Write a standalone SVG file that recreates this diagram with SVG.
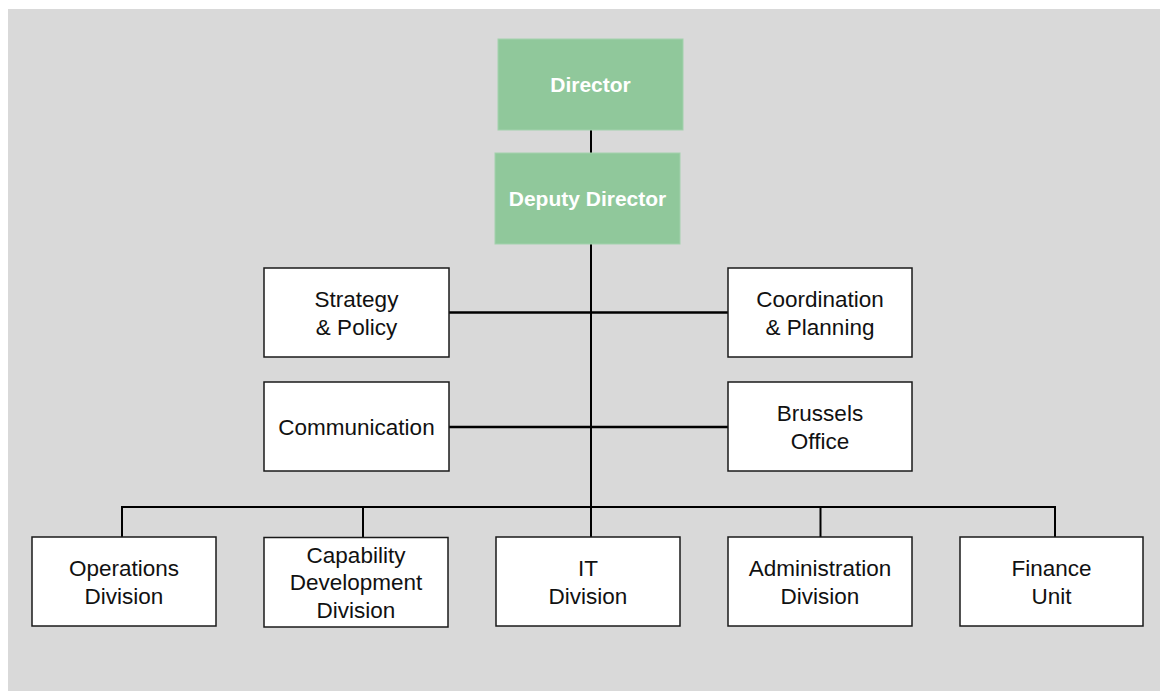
<svg xmlns="http://www.w3.org/2000/svg" width="1160" height="691" viewBox="0 0 1160 691">
<style>
.box{fill:#ffffff;stroke:#1a1a1a;stroke-width:1.5}
.green{fill:#90c89b;stroke:#a3d2ad;stroke-width:1}
.t{font-family:"Liberation Sans",Arial,sans-serif;font-size:22.5px;fill:#111111;text-anchor:middle}
.tw{font-family:"Liberation Sans",Arial,sans-serif;font-size:21px;font-weight:bold;fill:#ffffff;text-anchor:middle}
.ln{stroke:#000000;stroke-width:2;fill:none}
</style>
<rect x="0" y="0" width="1160" height="691" fill="#ffffff"/>
<rect x="8" y="9" width="1152" height="682" fill="#d9d9d9"/>
<g id="connectors">
<line class="ln" x1="591" y1="130" x2="591" y2="153"/>
<line class="ln" x1="591" y1="244" x2="591" y2="537"/>
<line class="ln" x1="449" y1="312.5" x2="728" y2="312.5" style="stroke-width:2.5"/>
<line class="ln" x1="449" y1="427" x2="728" y2="427" style="stroke-width:2.5"/>
<polyline class="ln" points="122,537 122,507 1055,507 1055,537"/>
<line class="ln" x1="363" y1="507" x2="363" y2="537"/>
<line class="ln" x1="820.5" y1="507" x2="820.5" y2="537"/>
</g>
<g id="director">
<rect class="green" x="498" y="39" width="185" height="91"/>
<text class="tw" x="590.5" y="92">Director</text>
</g>
<g id="deputy-director">
<rect class="green" x="495" y="153" width="185" height="91"/>
<text class="tw" x="587.5" y="206">Deputy Director</text>
</g>
<g id="strategy-policy">
<rect class="box" x="264" y="268" width="185" height="89"/>
<text class="t" x="356.5" y="307">Strategy</text>
<text class="t" x="356.5" y="335">&amp; Policy</text>
</g>
<g id="coordination-planning">
<rect class="box" x="728" y="268" width="184" height="89"/>
<text class="t" x="820" y="307">Coordination</text>
<text class="t" x="820" y="335">&amp; Planning</text>
</g>
<g id="communication">
<rect class="box" x="264" y="382" width="185" height="89"/>
<text class="t" x="356.5" y="435">Communication</text>
</g>
<g id="brussels-office">
<rect class="box" x="728" y="382" width="184" height="89"/>
<text class="t" x="820" y="421">Brussels</text>
<text class="t" x="820" y="449">Office</text>
</g>
<g id="operations-division">
<rect class="box" x="32" y="537" width="184" height="89"/>
<text class="t" x="124" y="576">Operations</text>
<text class="t" x="124" y="603.5">Division</text>
</g>
<g id="capability-development-division">
<rect class="box" x="264" y="537.5" width="184" height="89.5"/>
<text class="t" x="356" y="562.5">Capability</text>
<text class="t" x="356" y="590">Development</text>
<text class="t" x="356" y="617.5">Division</text>
</g>
<g id="it-division">
<rect class="box" x="496" y="537" width="184" height="89"/>
<text class="t" x="588" y="576">IT</text>
<text class="t" x="588" y="603.5">Division</text>
</g>
<g id="administration-division">
<rect class="box" x="728" y="537" width="184" height="89"/>
<text class="t" x="820" y="576">Administration</text>
<text class="t" x="820" y="603.5">Division</text>
</g>
<g id="finance-unit">
<rect class="box" x="960" y="537" width="183" height="89"/>
<text class="t" x="1051.5" y="576">Finance</text>
<text class="t" x="1051.5" y="603.5">Unit</text>
</g>
</svg>
